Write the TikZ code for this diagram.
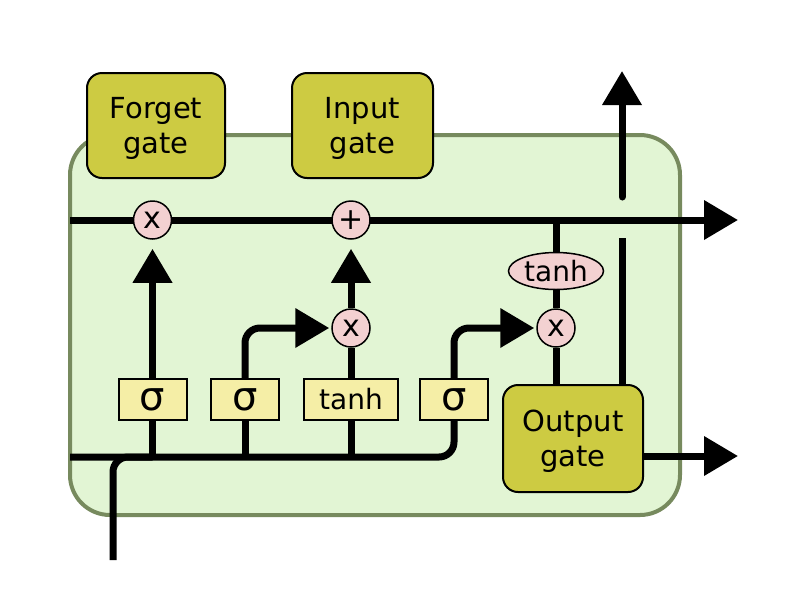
\documentclass[tikz,border=0pt]{standalone}
\usepackage{fontspec}
\setmainfont{DejaVu Sans}
\usetikzlibrary{arrows.meta,shapes.geometric}
\definecolor{cellfill}{HTML}{E2F5D4}
\definecolor{cellline}{HTML}{778A5E}
\definecolor{gatefill}{HTML}{CDCB42}
\definecolor{actfill}{HTML}{F5EEA6}
\definecolor{opfill}{HTML}{F3D1D1}
\pgfdeclarelayer{bg}
\pgfsetlayers{bg,main}
\begin{document}
\begin{tikzpicture}[x=1pt,y=-1pt,
 gatebox/.style={draw=black,line width=2pt,fill=gatefill,rounded corners=15pt,inner sep=0pt,align=center,text depth=0pt,font=\fontsize{29}{35}\selectfont},
 actbox/.style={draw=black,line width=2pt,fill=actfill,inner sep=0pt,minimum height=41pt,font=\fontsize{28}{34}\selectfont},
 sig/.style={font=\fontsize{40}{40}\selectfont},
 opcirc/.style={draw=black,line width=1.5pt,fill=opfill,circle,inner sep=0pt,minimum size=38pt,font=\fontsize{30}{34}\selectfont},
 flow/.style={line width=7pt},
 tip/.style={-{Triangle[length=34pt,width=38pt]}},
]
\useasboundingbox (0,0) rectangle (790,590);

% nodes
\node[gatebox,minimum width=138pt,minimum height=105pt] (fg) at (156,125.5) {Forget\\gate};
\node[gatebox,minimum width=141pt,minimum height=105pt] (ig) at (362.5,125.5) {Input\\gate};
\node[gatebox,minimum width=140pt,minimum height=107pt] (og) at (573,438.5) {Output\\gate};

\node[actbox,sig,minimum width=68pt] (s1) at (152.5,399.5) {σ};
\node[actbox,sig,minimum width=68pt] (s2) at (245,399.5) {σ};
\node[actbox,minimum width=94pt] (th) at (351,399.5) {tanh};
\node[actbox,sig,minimum width=68pt] (s4) at (454,399.5) {σ};

\node[opcirc] (fx) at (152.5,220) {x};
\node[opcirc] (plus) at (351,220) {+};
\node[opcirc] (mx) at (351,328) {x};
\node[opcirc] (ox) at (556,328) {x};
\node[draw=black,line width=1.5pt,fill=opfill,ellipse,inner sep=0pt,minimum width=95pt,minimum height=37pt,font=\fontsize{28}{34}\selectfont] (ell) at (556,271) {tanh};

\coordinate (cin) at (70,220);
\coordinate (cout) at (738,220);
\coordinate (bl) at (70,457);
\coordinate (xin) at (113,560);
\coordinate (hgap) at (622,238);
\coordinate (hstart) at (622,197);
\coordinate (hout) at (622,71);
\coordinate (yout) at (738,456);

\begin{pgfonlayer}{bg}
\draw[draw=cellline,fill=cellfill,line width=4pt,rounded corners=40pt] (70,135) rectangle (680,515);
% cell state
\draw[flow,tip] (cin) -- (cout);
% bottom input bus
\draw[flow,rounded corners=15pt] (bl) -| (s4.south);
\draw[flow,rounded corners=15pt] (xin) |- (s1.south |- bl);
\draw[flow] (s1.south) -- (s1.south |- bl);
\draw[flow] (s2.south) -- (s2.south |- bl);
\draw[flow] (th.south) -- (th.south |- bl);
% gates
\draw[flow,tip,shorten >=9pt] (s1.north) -- (fx.south);
\draw[flow,tip,rounded corners=15pt,shorten >=2pt] (s2.north) |- (mx.west);
\draw[flow] (th.north) -- (mx.south);
\draw[flow,tip,shorten >=9pt] (mx.north) -- (plus.south);
\draw[flow,tip,rounded corners=15pt,shorten >=2pt] (s4.north) |- (ox.west);
% output
\draw[flow] (ox |- cin) -- (ell.north);
\draw[flow] (ell.south) -- (ox.north);
\draw[flow] (ox.south) -- (og.north -| ox);
\draw[flow] (og.north -| hgap) -- (hgap);
\draw[flow,tip,line cap=round] (hstart) -- (hout);
\draw[flow,tip] (og.east |- yout) -- (yout);
\end{pgfonlayer}
\end{tikzpicture}
\end{document}
